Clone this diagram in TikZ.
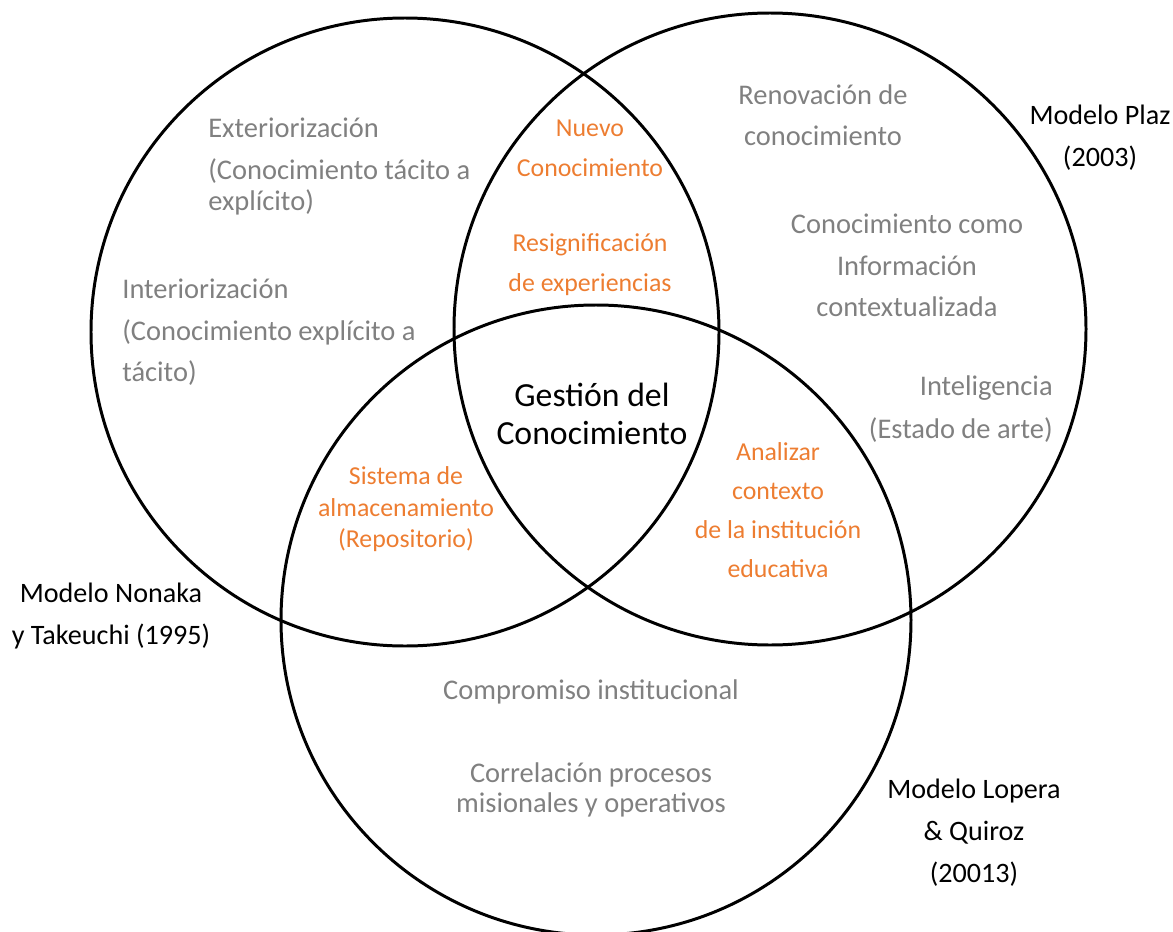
\documentclass[tikz,border=0pt]{standalone}
\usepackage{fontspec}
\setmainfont{Carlito}
\definecolor{gristexto}{RGB}{128,128,128}
\definecolor{naranja}{RGB}{237,125,49}

\begin{document}
\begin{tikzpicture}[scale=0.2,
        gris/.style={text=gristexto, font=\fontsize{16.2}{23.6}\selectfont},
        naranja/.style={text=naranja, align=center, font=\fontsize{14.7}{22.8}\selectfont},
        modelo/.style={text=black, align=center, font=\fontsize{16}{24}\selectfont},
        conjunto/.style={black, line width=1.7pt}]
        \tikzstyle{every node}+=[inner sep=0pt]
        \useasboundingbox (0,0) rectangle (117.3,-93.2);
        % los tres modelos
        \draw [conjunto] (40.5,-33.2) circle (31.4);
        \draw [conjunto] (77.0,-32.9) circle (31.6);
        \draw [conjunto] (59.6,-62.0) circle (31.5);
        % Nonaka y Takeuchi
        \node [gris, align=left, anchor=west] (ext) at (20.8,-16.65) {Exteriorizaci\'on\\
            (Conocimiento t\'acito a\\[-6pt]explícito)};
        \node [gris, align=left, anchor=west] (int) at (12.2,-33.25) {Interiorizaci\'on\\(Conocimiento explícito a\\t\'acito)};
        % Plaz
        \node [gris, align=center] (renov) at (82.3,-11.5) {Renovaci\'on de\\conocimiento};
        \node [gris, align=center] (info) at (90.7,-26.55) {Conocimiento como\\Informaci\'on\\contextualizada};
        \node [gris, align=right, anchor=east] (intel) at (105.3,-40.95) {Inteligencia\\[0.9pt](Estado de arte)};
        % Lopera y Quiroz
        \node [gris] (compr) at (59.1,-69.2) {Compromiso institucional};
        \node [gris, align=center, font=\fontsize{16.2}{17.1}\selectfont] (correl) at (59.1,-79.0) {Correlaci\'on procesos\\misionales y operativos};
        % intersecciones
        \node [naranja] (nuevo) at (59.0,-14.8) {Nuevo\\Conocimiento};
        \node [naranja] (resig) at (59.0,-26.5) {Resignificaci\'on\\de experiencias};
        \node [naranja, font=\fontsize{14.7}{17.9}\selectfont] (sistema) at (40.6,-50.95) {Sistema de\\almacenamiento\\(Repositorio)};
        \node [naranja, font=\fontsize{14.7}{22.2}\selectfont] (analizar) at (77.8,-51.0) {Analizar\\contexto\\de la instituci\'on\\educativa};
        \node [text=black, align=center, font=\fontsize{19.2}{21.6}\selectfont] (gestion) at (59.2,-41.4) {Gesti\'on del\\Conocimiento};
        % nombres de los modelos
        \node [modelo] (plaz) at (110.0,-13.75) {Modelo Plaz\\(2003)};
        \node [modelo] (nonaka) at (11.1,-61.6) {Modelo Nonaka\\y Takeuchi (1995)};
        \node [modelo] (lopera) at (97.4,-83.25) {Modelo Lopera\\\& Quiroz\\(20013)};
        \end{tikzpicture}
\end{document}
